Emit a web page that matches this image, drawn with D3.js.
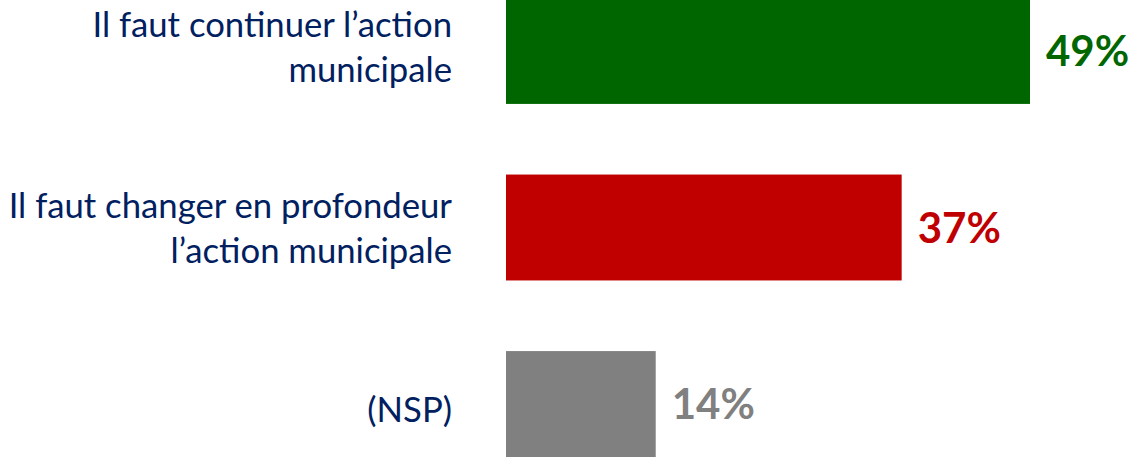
<!DOCTYPE html>
<html>
<head>
<meta charset="utf-8">
<script src="https://cdn.jsdelivr.net/npm/d3@7"></script>
<style>
html, body { margin: 0; padding: 0; background: #fff; overflow: hidden; }
</style>
</head>
<body>
<svg id="chart" width="1135" height="459"></svg>
<script>
const categories = [
  ["Il faut continuer l\u2019action", "municipale"],
  ["Il faut changer en profondeur", "l\u2019action municipale"],
  ["(NSP)"]
];
const values = [49, 37, 14];
const valueLabels = ["49%", "37%", "14%"];
const colors = ["#006600", "#C00000", "#808080"];

const svg = d3.select("#chart");
const x0 = 506;
const x = d3.scaleLinear().domain([0, 49]).range([x0, 1030]);
const y = d3.scaleBand().domain(d3.range(values.length)).range([-2, 457]).paddingInner(0.4).paddingOuter(0.0);
// category labels sit on a slightly wider band than the bars
const yLab = d3.scaleBand().domain(d3.range(values.length)).range([-7, 464]).paddingInner(0.4).paddingOuter(0.0);

const labelFont = "Lato, 'Open Sans', sans-serif";
const textColor = "#002060";

const g = svg.append("g");
g.selectAll("rect").data(values).join("rect")
  .attr("x", x0)
  .attr("y", (d, i) => y(i))
  .attr("width", d => x(d) - x0)
  .attr("height", y.bandwidth())
  .attr("fill", (d, i) => colors[i]);

g.selectAll("text.val").data(values).join("text")
  .attr("class", "val")
  .attr("x", d => x(d) + 16)
  .attr("y", (d, i) => y(i) + y.bandwidth() / 2 + 15)
  .attr("fill", (d, i) => colors[i])
  .attr("font-family", labelFont)
  .attr("font-weight", "bold")
  .attr("font-size", 42)
  .text((d, i) => valueLabels[i]);

const lineH = 45;
categories.forEach((lines, i) => {
  const cy = yLab(i) + yLab.bandwidth() / 2;
  const n = lines.length;
  const t = g.append("text")
    .attr("text-anchor", "end")
    .attr("fill", textColor)
    .attr("font-family", labelFont)
    .attr("font-size", 34.7);
  lines.forEach((ln, j) => {
    t.append("tspan")
      .attr("x", 452)
      .attr("y", cy + 12 + (j - (n - 1) / 2) * lineH)
      .text(ln);
  });
});
</script>
</body>
</html>
